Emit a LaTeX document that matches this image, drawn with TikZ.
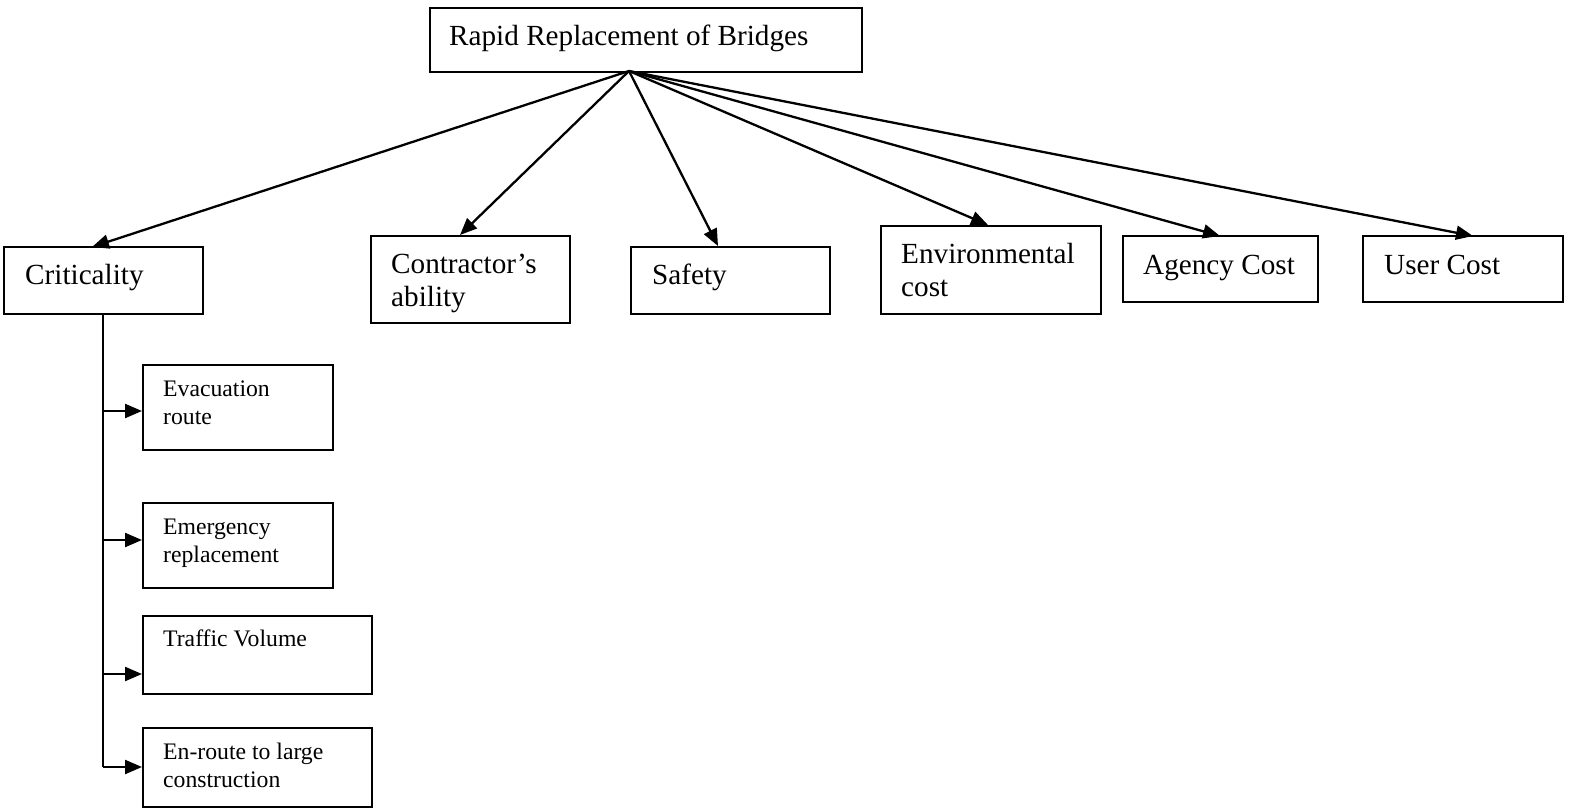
\documentclass[tikz,border=0pt]{standalone}
\usepackage{fontspec}
\setmainfont{Liberation Serif}
\usetikzlibrary{arrows.meta}
\begin{document}
\begin{tikzpicture}[x=1pt,y=-1pt,
  box/.style={draw,line width=1.9pt,inner sep=0pt,anchor=north west},
  big/.style={inner sep=0pt,anchor=base west,align=left,font=\fontsize{29.2}{33}\selectfont},
  small/.style={inner sep=0pt,anchor=base west,align=left,font=\fontsize{23.7}{28}\selectfont},
  arr/.style={line width=2.3pt,-{Triangle[length=17pt,width=14pt]}},
  link/.style={line width=2.3pt}]
\useasboundingbox (0,0) rectangle (1570,808);
% top
\node[box,minimum width=432pt,minimum height=64pt] (top) at (429,7) {};
\node[big] (ttop) at (449,46) {Rapid Replacement of Bridges};
% second level
\node[box,minimum width=199pt,minimum height=67pt] (crit) at (3,246) {};
\node[big] (tcrit) at (25,284) {Criticality};
\node[box,minimum width=199pt,minimum height=87pt] (cont) at (370,235) {};
\node[big] (tcont) at (391,306) {Contractor’s\\ability};
\node[box,minimum width=199pt,minimum height=67pt] (safe) at (630,246) {};
\node[big] (tsafe) at (652,284) {Safety};
\node[box,minimum width=220pt,minimum height=88pt] (env) at (880,225) {};
\node[big] (tenv) at (901,296) {Environmental\\cost};
\node[box,minimum width=195pt,minimum height=66pt] (agen) at (1122,235) {};
\node[big] (tagen) at (1143,274) {Agency Cost};
\node[box,minimum width=200pt,minimum height=66pt] (user) at (1362,235) {};
\node[big] (tuser) at (1384,274) {User Cost};
% sub-level
\node[box,minimum width=190pt,minimum height=85pt] (evac) at (142,364) {};
\node[small] (tevac) at (163,424) {Evacuation\\route};
\node[box,minimum width=190pt,minimum height=85pt] (emer) at (142,502) {};
\node[small] (temer) at (163,562) {Emergency\\replacement};
\node[box,minimum width=229pt,minimum height=78pt] (traf) at (142,615) {};
\node[small] (ttraf) at (163,646) {Traffic Volume};
\node[box,minimum width=229pt,minimum height=79pt] (enr) at (142,727) {};
\node[small] (tenr) at (163,787) {En-route to large\\construction};
% connectors from top
\coordinate (o) at (629,71);
\coordinate (pcrit) at (92,247);
\coordinate (pcont) at (460,235);
\coordinate (psafe) at (718,246);
\coordinate (penv) at (988,225);
\coordinate (pagen) at (1220,236);
\coordinate (puser) at (1473,236);
\draw[arr] (o) -- (pcrit);
\draw[arr] (o) -- (pcont);
\draw[arr] (o) -- (psafe);
\draw[arr] (o) -- (penv);
\draw[arr] (o) -- (pagen);
\draw[arr] (o) -- (puser);
% criticality tree
\coordinate (c0) at (103,313);
\coordinate (c1) at (103,411);
\coordinate (c2) at (103,540);
\coordinate (c3) at (103,674);
\coordinate (c4) at (103,767);
\draw[link] (c0) -- (c4);
\draw[arr] (c1) -- (c1 -| evac.west);
\draw[arr] (c2) -- (c2 -| emer.west);
\draw[arr] (c3) -- (c3 -| traf.west);
\draw[arr] (c4) -- (c4 -| enr.west);
\end{tikzpicture}
\end{document}
